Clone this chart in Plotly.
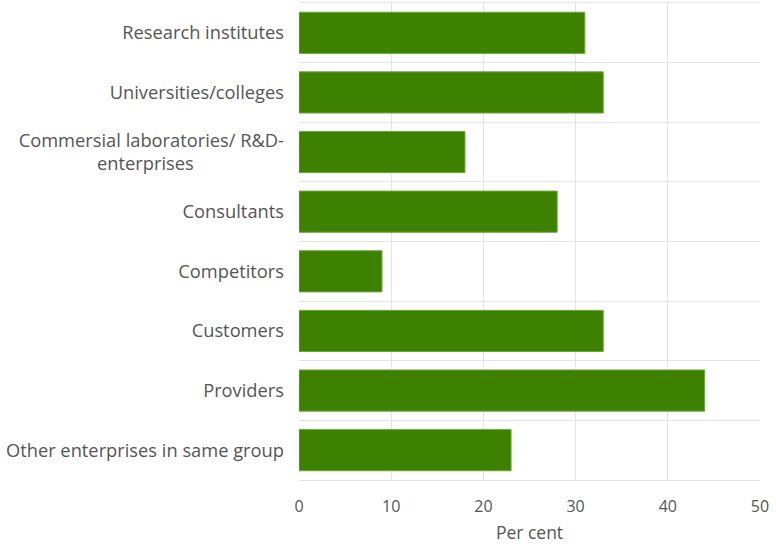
import plotly.graph_objects as go

categories = [
    "Research institutes",
    "Universities/colleges",
    "Commersial laboratories/ R&D-<br>enterprises" + "\u00a0" * 19,
    "Consultants",
    "Competitors",
    "Customers",
    "Providers",
    "Other enterprises in same group",
]
values = [31, 33, 18, 28, 9, 33, 44, 23]
x_ticks = [0, 10, 20, 30, 40, 50]

fig = go.Figure(
    go.Bar(
        y=categories,
        x=values,
        orientation="h",
        marker=dict(color="#3e8100", line=dict(color="#6aa83a", width=1)),
        width=0.69,
    )
)

fig.update_layout(
    width=776,
    height=544,
    margin=dict(l=299, r=16, t=3, b=64, autoexpand=False),
    plot_bgcolor="white",
    paper_bgcolor="white",
    font=dict(family="Open Sans", size=16, color="#555555"),
    showlegend=False,
    bargap=0.31,
)
fig.update_xaxes(
    range=[0, 50],
    tickvals=x_ticks,
    showgrid=True,
    gridcolor="#e3e3e3",
    gridwidth=1,
    zeroline=False,
    showline=True,
    linecolor="#e3e3e3",
    linewidth=1,
    mirror=True,
    ticks="",
    automargin=False,
    ticklabelstandoff=12,
    tickfont=dict(size=16),
    title=dict(text="Per cent", standoff=15, font=dict(size=17.5)),
)
fig.update_yaxes(
    type="category",
    autorange="reversed",
    tickson="boundaries",
    showgrid=True,
    gridcolor="#e3e3e3",
    gridwidth=1,
    ticks="",
    showline=False,
    zeroline=False,
    automargin=False,
    ticklabelstandoff=14,
    tickfont=dict(size=18.3),
)

fig.write_html(
    "out.html",
    config={"displayModeBar": False},
    post_script="document.body.style.margin='0';document.body.style.overflow='hidden';",
)
